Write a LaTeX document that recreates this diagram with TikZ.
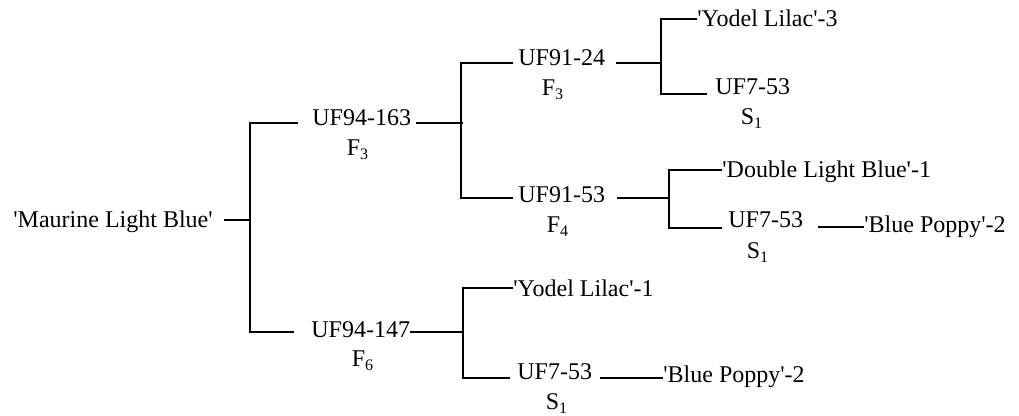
\documentclass[tikz,border=0pt]{standalone}
\usepackage{fontspec}
\setmainfont{Liberation Serif}
\usetikzlibrary{positioning}
\newcommand{\qm}{\textquotesingle}

\begin{document}
\begin{tikzpicture}[x=0.5pt, y=-0.5pt,
  cultivar/.style={inner sep=0pt, anchor=base west, font=\fontsize{12}{14}\selectfont},
  gen/.style={inner sep=0pt, anchor=base, font=\fontsize{12}{14}\selectfont},
  br/.style={line width=1pt, black}
]
  \useasboundingbox (0,0) rectangle (1019,416);

  % cultivars and selections
  \node[cultivar] (mlb) at (13,228) {\qm Maurine Light Blue\qm};
  \node[cultivar] (uf163) at (312,126) {UF94-163};
  \node[cultivar] (uf147) at (311,338) {UF94-147};
  \node[cultivar] (uf24) at (518,66) {UF91-24};
  \node[cultivar] (uf53) at (518,203) {UF91-53};
  \node[cultivar] (y3) at (697,27) {\qm Yodel Lilac\qm-3};
  \node[cultivar] (s7a) at (715,95) {UF7-53};
  \node[cultivar] (dlb) at (722,178) {\qm Double Light Blue\qm-1};
  \node[cultivar] (s7b) at (728,228) {UF7-53};
  \node[cultivar] (bp1) at (864,233) {\qm Blue Poppy\qm-2};
  \node[cultivar] (y1) at (513,297) {\qm Yodel Lilac\qm-1};
  \node[cultivar] (s7c) at (517,380) {UF7-53};
  \node[cultivar] (bp2) at (663,383) {\qm Blue Poppy\qm-2};

  % generations
  \node[gen] (f163) at (358,156) {F\textsubscript{3}};
  \node[gen] (f24) at (553,96) {F\textsubscript{3}};
  \node[gen] (f53) at (558,233) {F\textsubscript{4}};
  \node[gen] (f147) at (363,367) {F\textsubscript{6}};
  \node[gen] (s1a) at (752,125) {S\textsubscript{1}};
  \node[gen] (s1b) at (758,259) {S\textsubscript{1}};
  \node[gen] (s1c) at (557,410) {S\textsubscript{1}};

  % joints of the tree
  \coordinate (j0) at (250,220);
  \coordinate (j1) at (461,123);
  \coordinate (j2) at (661,63);
  \coordinate (j3) at (669,198);
  \coordinate (j4) at (463,332);
  % free ends of the arms
  \coordinate (e163) at (298,123);
  \coordinate (e147) at (294,332);
  \coordinate (e24) at (513,63);
  \coordinate (e53) at (513,198);
  \coordinate (ey3) at (697,19);
  \coordinate (e7a) at (707,94);
  \coordinate (edlb) at (722,170);
  \coordinate (e7b) at (722,228);
  \coordinate (ey1) at (513,288);
  \coordinate (e7c) at (510,378);
  \coordinate (k1) at (864,227);
  \coordinate (k2) at (663,378);

  \draw[br] (mlb.east |- j0) ++(11,0) -- (j0);
  \draw[br] (e163) -| (j0) |- (e147);

  \draw[br] (uf163.east |- j1) ++(5,0) -- ([xshift=1pt]j1);
  \draw[br] (e24) -| (j1) |- (e53);

  \draw[br] (uf24.east |- j2) ++(11,0) -- (j2);
  \draw[br] (y3.west |- ey3) -| (j2) |- (e7a);

  \draw[br] (uf53.east |- j3) ++(12,0) -- (j3);
  \draw[br] (dlb.west |- edlb) -| (j3) |- (e7b);
  \draw[br] (s7b.east |- k1) ++(15,0) -- (bp1.west |- k1);

  \draw[br] (uf147.east |- j4) -- (j4);
  \draw[br] (y1.west |- ey1) -| (j4) |- (e7c);
  \draw[br] (s7c.east |- k2) ++(8,0) -- (bp2.west |- k2);
\end{tikzpicture}
\end{document}
